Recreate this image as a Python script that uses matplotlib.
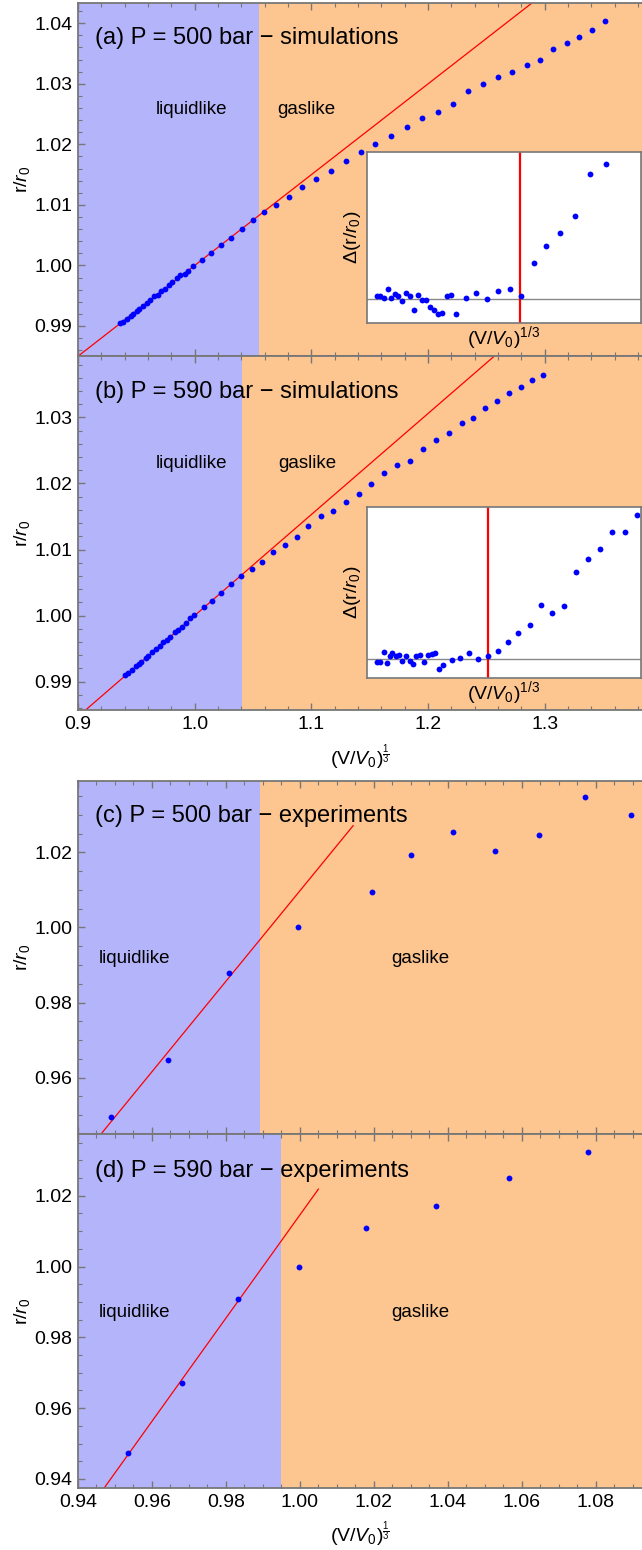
import numpy as np
import matplotlib
matplotlib.use('Agg')
import matplotlib.pyplot as plt
from matplotlib.ticker import MultipleLocator, FormatStrFormatter

plt.rcParams['font.family'] = ['Liberation Sans', 'DejaVu Sans']
plt.rcParams['mathtext.fontset'] = 'custom'
plt.rcParams['mathtext.rm'] = 'Liberation Sans'
plt.rcParams['mathtext.it'] = 'Liberation Sans:italic'
plt.rcParams['mathtext.bf'] = 'Liberation Sans:bold'

# ---- (a) P = 500 bar, simulations ----
a_x = [0.9364, 0.9385, 0.9416, 0.9450, 0.9472, 0.9503, 0.9524, 0.9556, 0.9590,
       0.9619, 0.9650, 0.9682, 0.9713, 0.9745, 0.9776, 0.9808, 0.9845, 0.9876,
       0.9913, 0.9944, 0.9984, 1.0063, 1.0141, 1.0225, 1.0312, 1.0407, 1.0499,
       1.0596, 1.0695, 1.0804, 1.0923, 1.1039, 1.1168, 1.1295, 1.1421, 1.1547,
       1.1684, 1.1818, 1.1947, 1.2081, 1.2211, 1.2344, 1.2474, 1.2600, 1.2716,
       1.2846, 1.2961, 1.3074, 1.3189, 1.3291, 1.3404, 1.3512]
a_y = [0.99041, 0.99072, 0.99122, 0.99160, 0.99206, 0.99247, 0.99281, 0.99337,
       0.99375, 0.99423, 0.99491, 0.99516, 0.99571, 0.99619, 0.99675, 0.99728,
       0.99790, 0.99834, 0.99865, 0.99910, 0.99998, 1.00092, 1.00202, 1.00337,
       1.00456, 1.00595, 1.00743,
       1.00886, 1.00996, 1.01128, 1.01293, 1.01436, 1.01552, 1.01728, 1.01882,
       1.02008, 1.02140, 1.02289, 1.02432, 1.02542, 1.02674, 1.02889, 1.02999,
       1.03120, 1.03197, 1.03312, 1.03395, 1.03576, 1.03670, 1.03769, 1.03884,
       1.04044]
a_res = [0.05, 0.05, 0.025, 0.155, 0.025, 0.08, 0.055, -0.025, 0.10, 0.055,
         -0.155, 0.07, -0.01, -0.01, -0.11, -0.16, -0.225, -0.20, 0.05, 0.065,
         -0.215, 0.025, 0.095, 0.005, 0.125, 0.155, 0.055,
         0.54, 0.805, 1.0, 1.25, 1.875, 2.025]
a_slope, a_x0, a_split, a_vline = 0.15, 1.0, 1.0551, 1.0485

# ---- (b) P = 590 bar, simulations ----
b_x = [0.9406, 0.9430, 0.9466, 0.9493, 0.9520, 0.9544, 0.9580, 0.9603, 0.9633,
       0.9669, 0.9699, 0.9732, 0.9759, 0.9792, 0.9831, 0.9861, 0.9894, 0.9929,
       0.9962, 0.9998, 1.0079, 1.0148, 1.0228, 1.0315, 1.0396,
       1.0491, 1.0579, 1.0670, 1.0772, 1.0874, 1.0975, 1.1081, 1.1186, 1.1295,
       1.1407, 1.1509, 1.1625, 1.1737, 1.1842, 1.1958, 1.2067, 1.2179, 1.2288,
       1.2389, 1.2488, 1.2593, 1.2695, 1.2796, 1.2888, 1.2982]
b_y = [0.99096, 0.99132, 0.99173, 0.99231, 0.99261, 0.99293, 0.99353, 0.99387,
       0.99441, 0.99489, 0.99543, 0.99597, 0.99627, 0.99676, 0.99746, 0.99782,
       0.99831, 0.99883, 0.99957, 1.00006, 1.00123, 1.00225, 1.00340, 1.00482,
       1.00601,
       1.00712, 1.00818, 1.00955, 1.01071, 1.01182, 1.01359, 1.01505, 1.01581,
       1.01717, 1.01848, 1.01985, 1.02152, 1.02283, 1.02343, 1.02525, 1.02662,
       1.02763, 1.02909, 1.02985, 1.03136, 1.03242, 1.03364, 1.03455, 1.03571,
       1.03646]
b_res = [-0.05, -0.04, 0.10, -0.065, 0.045, 0.095, 0.045, 0.055, -0.025, 0.045,
         -0.035, -0.07, 0.045, 0.055, -0.05, 0.055, 0.07, 0.085, -0.155, -0.09,
         -0.02, 0.015, 0.085, -0.005, 0.045,
         0.115, 0.26, 0.395, 0.515, 0.81, 0.69, 0.795, 1.30, 1.505, 1.655,
         1.905, 1.905, 2.16]
b_slope, b_x0, b_split, b_vline = 0.153, 1.0, 1.0403, 1.0396

# ---- (c) P = 500 bar, experiments ----
c_x = [0.94885, 0.96435, 0.98095, 0.99944, 1.01936, 1.02998, 1.04127, 1.05267,
       1.06474, 1.07702, 1.08953]
c_y = [0.9496, 0.9648, 0.9880, 1.0001, 1.00933, 1.01938, 1.02542, 1.02044,
       1.02462, 1.03484, 1.02987]
c_slope, c_x0, c_xend, c_split = 1.204, 0.9919, 1.0144, 0.9893

# ---- (d) P = 590 bar, experiments ----
d_x = [0.95361, 0.96800, 0.98328, 0.99988, 1.01781, 1.03673, 1.05666, 1.07780]
d_y = [0.94732, 0.96723, 0.99070, 1.00000, 1.01099, 1.01709, 1.02488, 1.03221]
d_slope, d_x0, d_xend, d_split = 1.457, 0.990, 1.005, 0.9949

BLUE_BG = '#b4b4fa'
ORANGE_BG = '#fdc590'
FRAME = '#777777'
W, H = 642, 1550


def px_axes(fig, left, top, right, bottom):
    return fig.add_axes([left / W, 1 - bottom / H, (right - left) / W, (bottom - top) / H])


def style(ax, xmaj, xmin, ymaj, ymin):
    ax.xaxis.set_major_locator(MultipleLocator(xmaj))
    ax.xaxis.set_minor_locator(MultipleLocator(xmin))
    ax.yaxis.set_major_locator(MultipleLocator(ymaj))
    ax.yaxis.set_minor_locator(MultipleLocator(ymin))
    ax.tick_params(which='both', direction='in', top=True, right=False,
                   color=FRAME, labelsize=14, pad=4)
    ax.tick_params(which='major', length=5, width=1)
    ax.tick_params(which='minor', length=3, width=0.8)
    for s in ax.spines.values():
        s.set_color(FRAME)
        s.set_linewidth(1.3)
    ax.spines['right'].set_visible(False)


def panel(ax, xlim, ylim, split, x, y, slope, x0, xend, title, lab_y, liq_x, gas_x):
    ax.set_xlim(*xlim)
    ax.set_ylim(*ylim)
    ax.axvspan(xlim[0], split, color=BLUE_BG, lw=0, zorder=0)
    ax.axvspan(split, xlim[1], color=ORANGE_BG, lw=0, zorder=0)
    lx = np.linspace(xlim[0], xend, 200)
    ax.plot(lx, 1 + slope * (lx - x0), color='red', lw=0.9, zorder=2)
    ax.plot(x, y, 'o', color='blue', ms=4.2, mew=0, zorder=3)
    ax.text(0.031, title[1], title[0], transform=ax.transAxes, fontsize=17,
            ha='left', va='center')
    ax.text(liq_x, lab_y, 'liquidlike', transform=ax.transAxes, fontsize=13.5,
            ha='center', va='center')
    ax.text(gas_x, lab_y, 'gaslike', transform=ax.transAxes, fontsize=13.5,
            ha='center', va='center')
    ax.set_ylabel(r'$\mathrm{r}/r_0$', fontsize=14)
    ax.yaxis.set_label_coords(-0.082, 0.5)


def inset(fig, top, bottom, xlim, ylim, x, res, vline):
    ins = px_axes(fig, 367, top, 641, bottom)
    ins.set_facecolor('white')
    ins.set_xlim(*xlim)
    ins.set_ylim(*ylim)
    ins.axhline(0, color='#888888', lw=1.0)
    ins.axvline(vline, color='red', lw=1.6)
    ins.plot(x[:len(res)], res, 'o', color='blue', ms=4.2, mew=0)
    ins.set_xticks([])
    ins.set_yticks([])
    for s in ins.spines.values():
        s.set_color(FRAME)
        s.set_linewidth(1.2)
    ins.set_xlabel(r'$(\mathrm{V}/V_0)^{1/3}$', fontsize=14, labelpad=1)
    ins.set_ylabel(r'$\Delta(\mathrm{r}/r_0)$', fontsize=14, labelpad=3)
    return ins


fig = plt.figure(figsize=(W / 100, H / 100), dpi=100)

# simulations
ax_a = px_axes(fig, 78, 2.7, 642, 356)
ax_b = px_axes(fig, 78, 356, 642, 710)
sim_xlim = (0.9, 1.3833)
panel(ax_a, sim_xlim, (0.98504, 1.0434), a_split, a_x, a_y, a_slope, a_x0,
      sim_xlim[1], ('(a) P = 500 bar \u2212 simulations', 0.901), 0.699, 0.2016, 0.4055)
panel(ax_b, sim_xlim, (0.9857, 1.0393), b_split, b_x, b_y, b_slope, b_x0,
      sim_xlim[1], ('(b) P = 590 bar \u2212 simulations', 0.8975), 0.697, 0.201, 0.4057)
for ax in (ax_a, ax_b):
    style(ax, 0.1, 0.02, 0.01, 0.002)
    ax.yaxis.set_major_formatter(FormatStrFormatter('%.2f'))
ax_a.tick_params(labelbottom=False)
ax_b.xaxis.set_major_formatter(FormatStrFormatter('%.1f'))
ax_b.set_xlabel(r'$(\mathrm{V}/V_0)^{\frac{1}{3}}$', fontsize=14, labelpad=7)

inset(fig, 152.3, 322.7, (0.9282, 1.1442), (-0.35, 2.205), a_x, a_res, a_vline)
inset(fig, 506.7, 677.7, (0.9316, 1.1771), (-0.28, 2.285), b_x, b_res, b_vline)

# experiments
ax_c = px_axes(fig, 78, 780.7, 642, 1134)
ax_d = px_axes(fig, 78, 1134, 642, 1488.3)
exp_xlim = (0.94, 1.0925)
panel(ax_c, exp_xlim, (0.94501, 1.03906), c_split, c_x, c_y, c_slope, c_x0,
      c_xend, ('(c) P = 500 bar \u2212 experiments', 0.900), 0.497, 0.1005, 0.607)
panel(ax_d, exp_xlim, (0.93737, 1.03742), d_split, d_x, d_y, d_slope, d_x0,
      d_xend, ('(d) P = 590 bar \u2212 experiments', 0.8964), 0.4956, 0.1005, 0.607)
for ax in (ax_c, ax_d):
    style(ax, 0.02, 0.005, 0.02, 0.005)
    ax.yaxis.set_major_formatter(FormatStrFormatter('%.2f'))
ax_c.tick_params(labelbottom=False)
ax_d.xaxis.set_major_formatter(FormatStrFormatter('%.2f'))
ax_d.set_xlabel(r'$(\mathrm{V}/V_0)^{\frac{1}{3}}$', fontsize=14, labelpad=6)

fig.savefig('out.png', dpi=100)
